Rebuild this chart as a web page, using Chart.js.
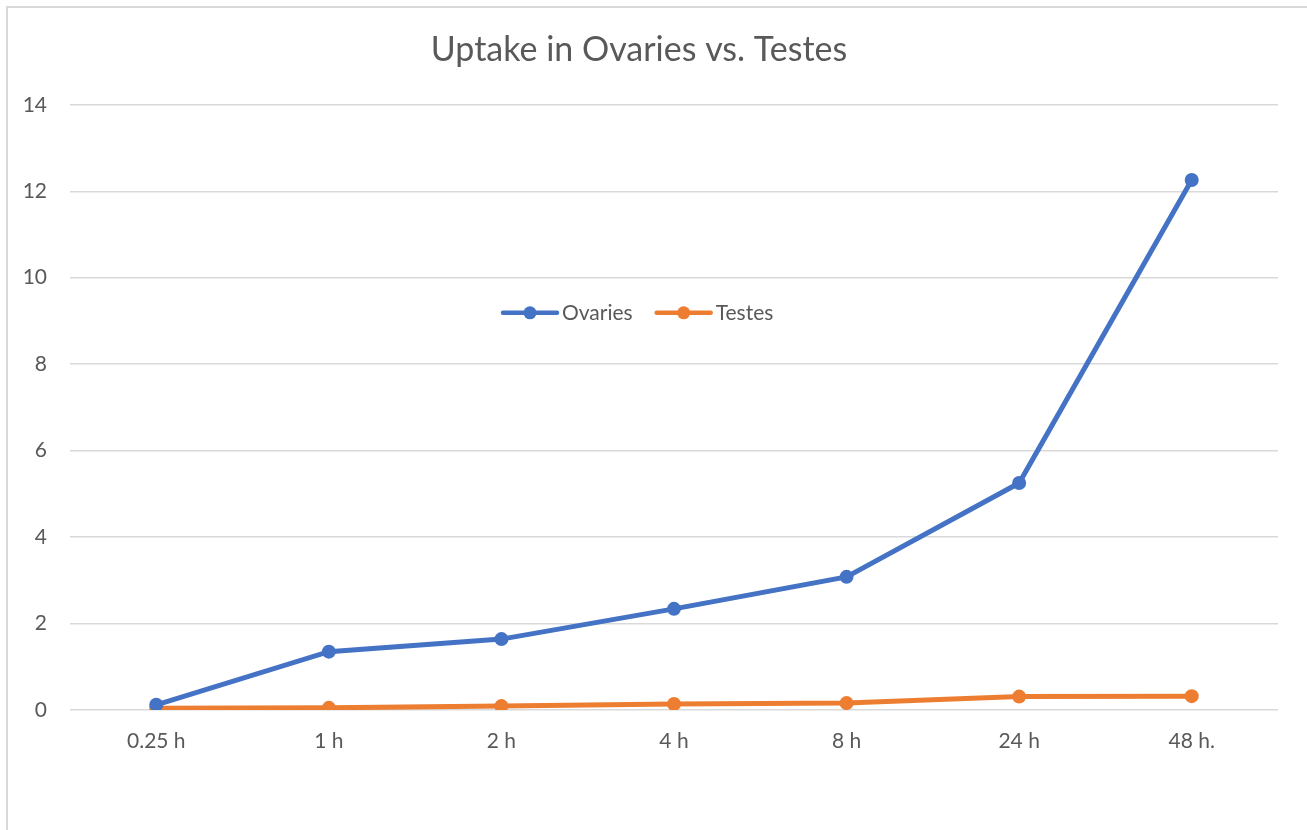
<!DOCTYPE html>
<html>
<head>
<meta charset="utf-8">
<script src="https://cdn.jsdelivr.net/npm/chart.js@4/dist/chart.umd.min.js"></script>
<style>
  html, body { margin: 0; padding: 0; background: #fff; overflow: hidden; }
  #wrap { position: relative; width: 1307px; height: 830px; }
  #frame { position: absolute; left: 6px; top: 6px; width: 1320px; height: 840px;
           border: 2px solid #d9d9d9; box-sizing: border-box; }
  canvas { position: absolute; left: 0; top: 0; }
</style>
</head>
<body>
<div id="wrap">
  <div id="frame"></div>
  <canvas id="uptake_chart" width="1307" height="830"></canvas>
</div>
<script>
var categories = ["0.25 h", "1 h", "2 h", "4 h", "8 h", "24 h", "48 h."];
var ovaries = [0.12, 1.35, 1.64, 2.34, 3.08, 5.25, 12.26];
var testes = [0.04, 0.05, 0.09, 0.14, 0.16, 0.31, 0.32];
var yTicks = [0, 2, 4, 6, 8, 10, 12, 14];

var textColor = "#595959";
var blue = "#4472C4";
var orange = "#ED7D31";

// legend drawn inside the plot, like the original
var innerLegend = {
    id: "innerLegend",
    afterDraw: function(chart) {
        var c = chart.ctx;
        var area = chart.chartArea;
        var y = area.top + 208;
        var x = 503;
        c.save();
        c.font = "21px Lato";
        c.textBaseline = "middle";
        chart.data.datasets.forEach(function(ds) {
            c.strokeStyle = ds.borderColor;
            c.lineWidth = 4.5;
            c.lineCap = "round";
            c.beginPath();
            c.moveTo(x, y);
            c.lineTo(x + 54, y);
            c.stroke();
            c.fillStyle = ds.borderColor;
            c.beginPath();
            c.arc(x + 27, y, 6.5, 0, Math.PI * 2);
            c.fill();
            c.fillStyle = textColor;
            c.fillText(ds.label, x + 59, y);
            x += 59 + c.measureText(ds.label).width + 24;
        });
        c.restore();
    }
};

var chart = new Chart(document.getElementById("uptake_chart"), {
    type: "line",
    data: {
        labels: categories,
        datasets: [{
            label: "Ovaries",
            data: ovaries,
            borderColor: blue,
            backgroundColor: blue,
            borderWidth: 5,
            pointRadius: 7,
            pointHoverRadius: 7,
            pointBorderWidth: 0,
            tension: 0
        }, {
            label: "Testes",
            data: testes,
            borderColor: orange,
            backgroundColor: orange,
            borderWidth: 5,
            pointRadius: 7,
            pointHoverRadius: 7,
            pointBorderWidth: 0,
            tension: 0
        }]
    },
    plugins: [innerLegend],
    options: {
        responsive: false,
        animation: false,
        layout: { padding: { left: 0, right: 29, top: 0, bottom: 0 } },
        plugins: {
            legend: { display: false },
            tooltip: { enabled: false },
            title: {
                display: true,
                text: "Uptake in Ovaries vs. Testes",
                color: textColor,
                font: { family: "Lato", size: 34, weight: "normal", lineHeight: 1.2 },
                padding: { top: 30, bottom: 34 }
            }
        },
        scales: {
            x: {
                offset: true,
                grid: { display: false, drawTicks: false },
                border: { display: false },
                ticks: {
                    color: textColor,
                    font: { family: "Lato", size: 21 },
                    padding: 19,
                    maxRotation: 0
                },
                afterFit: function(scale) { scale.height = 120; }
            },
            y: {
                min: 0,
                max: 14,
                afterBuildTicks: function(scale) {
                    scale.ticks = yTicks.map(function(v) { return { value: v }; });
                },
                grid: { color: "#d9d9d9", lineWidth: 1.5, drawTicks: false },
                border: { display: false },
                ticks: {
                    color: textColor,
                    font: { family: "Lato", size: 21 },
                    padding: 23
                },
                afterFit: function(scale) { scale.width = 70; }
            }
        }
    }
});
</script>
</body>
</html>
